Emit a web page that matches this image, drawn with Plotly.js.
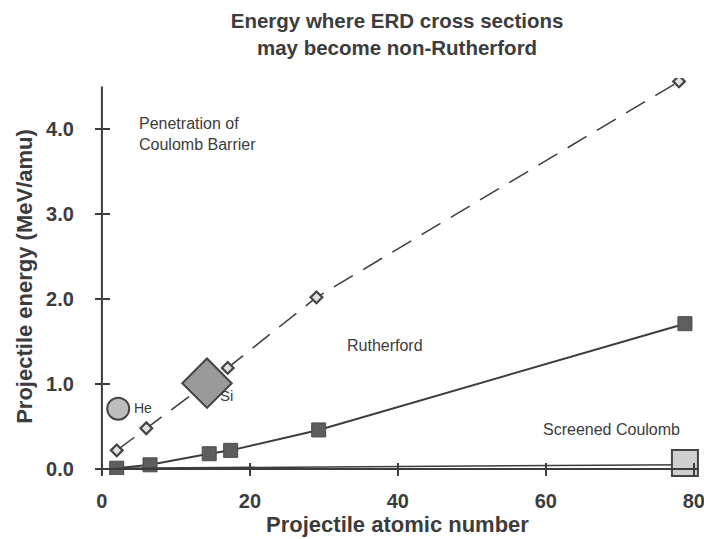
<!DOCTYPE html>
<html>
<head>
<meta charset="utf-8">
<script src="https://cdn.plot.ly/plotly-3.0.1.min.js"></script>
<style>html,body{margin:0;padding:0;background:#fff;}#chart{width:704px;height:539px;}</style>
</head>
<body>
<div id="chart"></div>
<script>
// Coulomb barrier penetration boundary (dashed, small diamonds)
const barrierZ = [2, 6, 17, 29, 78];
const barrierE = [0.22, 0.48, 1.19, 2.02, 4.56];
// Rutherford / screened boundary (solid, filled squares)
const screenZ = [2, 6.5, 14.5, 17.4, 29.3, 78.8];
const screenE = [0.01, 0.05, 0.18, 0.22, 0.46, 1.71];
// Screened Coulomb lower line
const lowZ = [2, 78.8];
const lowE = [0.01, 0.05];
// Highlighted points
const heZ = [2.2], heE = [0.71];
const siZ = [14.2], siE = [1.01];
const boxZ = [78.8], boxE = [0.07];

const xTicks = [0, 20, 40, 60, 80];
const yTicks = [0, 1, 2, 3, 4];
const yTickText = ['0.0', '1.0', '2.0', '3.0', '4.0'];

const ink = '#3c3c3c';
const fam = 'Liberation Sans, Arial, sans-serif';
const xRange = [-0.8, 80.7];
const yRange = [-0.07, 4.6];
const yAxisTop = 4.5;
const xPos0 = (0 - xRange[0]) / (xRange[1] - xRange[0]);
const yPos0 = (0 - yRange[0]) / (yRange[1] - yRange[0]);

const traces = [
  {x: barrierZ, y: barrierE, mode: 'lines+markers', type: 'scatter',
   line: {color: ink, width: 1.5, dash: '22px,12px'},
   marker: {symbol: 'diamond', size: 9, color: '#e0e0e0', line: {color: '#444', width: 2.2}}},
  {x: screenZ, y: screenE, mode: 'lines+markers', type: 'scatter',
   line: {color: ink, width: 2},
   marker: {symbol: 'square', size: 14, color: '#5e5e5e', line: {color: '#4a4a4a', width: 1}}},
  {x: lowZ, y: lowE, mode: 'lines', type: 'scatter',
   line: {color: ink, width: 1.5}},
  {x: heZ, y: heE, mode: 'markers', type: 'scatter',
   marker: {symbol: 'circle', size: 22, color: '#bdbdbd', line: {color: '#444', width: 2}}},
  {x: siZ, y: siE, mode: 'markers', type: 'scatter',
   marker: {symbol: 'diamond', size: 38, color: '#9a9a9a', line: {color: '#444', width: 2}}},
  {x: boxZ, y: boxE, mode: 'markers', type: 'scatter', cliponaxis: false,
   marker: {symbol: 'square', size: 26, color: '#cfcfcf', line: {color: '#444', width: 2}}}
];

const tickFont = {family: fam, size: 20, color: ink, weight: 'bold'};
const annFont = {family: fam, size: 16, color: ink};

const layout = {
  width: 704, height: 539,
  margin: {l: 96, r: 5, t: 78, b: 64},
  paper_bgcolor: '#fff', plot_bgcolor: '#fff',
  showlegend: false,
  title: {text: 'Energy where ERD cross sections<br>may become non-Rutherford',
          x: 0.564, xanchor: 'center', yref: 'container', y: 0.948, yanchor: 'top',
          font: {family: fam, size: 20.5, color: ink, weight: 'bold'}},
  xaxis: {range: xRange, anchor: 'free', position: yPos0, showgrid: false, zeroline: false,
          showline: true, linecolor: ink, linewidth: 2,
          tickvals: xTicks, ticktext: xTicks.map(String), ticks: 'outside', ticklen: 6, tickwidth: 2, tickcolor: ink,
          ticklabelstandoff: 8, ticklabeloverflow: 'allow', tickfont: tickFont,
          title: {text: 'Projectile atomic number', standoff: 0,
                  font: {family: fam, size: 22, color: ink, weight: 'bold'}}},
  yaxis: {range: yRange, anchor: 'free', position: xPos0, showgrid: false, zeroline: false,
          showline: false,
          tickvals: yTicks, ticktext: yTickText, ticks: 'outside', ticklen: 7, tickwidth: 2, tickcolor: ink,
          ticklabelstandoff: 17, ticklabeloverflow: 'allow', tickfont: tickFont,
          title: {text: 'Projectile energy (MeV/amu)', standoff: 6,
                  font: {family: fam, size: 22, color: ink, weight: 'bold'}}},
  xaxis2: {range: xRange, overlaying: 'x', anchor: 'free', position: yPos0, showgrid: false, zeroline: false,
           showline: false, tickvals: xTicks, showticklabels: false, ticks: 'inside', ticklen: 6, tickwidth: 2, tickcolor: ink},
  yaxis2: {range: yRange, overlaying: 'y', anchor: 'free', position: xPos0, showgrid: false, zeroline: false,
           showline: false, tickvals: yTicks, showticklabels: false, ticks: 'inside', ticklen: 7, tickwidth: 2, tickcolor: ink},
  shapes: [
    {type: 'line', xref: 'x', yref: 'y', x0: 0, x1: 0, y0: yRange[0], y1: yAxisTop,
     line: {color: ink, width: 2}, layer: 'below'}
  ],
  annotations: [
    {x: 4.7, y: 3.94, xref: 'x', yref: 'y', xanchor: 'left', yanchor: 'middle', align: 'left', showarrow: false,
     text: 'Penetration of<br>Coulomb Barrier', font: annFont},
    {x: 32.9, y: 1.45, xref: 'x', yref: 'y', xanchor: 'left', yanchor: 'middle', showarrow: false,
     text: 'Rutherford', font: annFont},
    {x: 59.4, y: 0.46, xref: 'x', yref: 'y', xanchor: 'left', yanchor: 'middle', showarrow: false,
     text: 'Screened Coulomb', font: annFont},
    {x: 4.0, y: 0.72, xref: 'x', yref: 'y', xanchor: 'left', yanchor: 'middle', showarrow: false,
     text: 'He', font: {family: fam, size: 14, color: ink}},
    {x: 15.7, y: 0.86, xref: 'x', yref: 'y', xanchor: 'left', yanchor: 'middle', showarrow: false,
     text: 'Si', font: {family: fam, size: 15, color: ink}}
  ]
};

// dummy trace to activate overlay axes
traces.push({x: [], y: [], xaxis: 'x2', yaxis: 'y2', type: 'scatter', mode: 'markers', hoverinfo: 'skip'});

Plotly.newPlot('chart', traces, layout, {displayModeBar: false, staticPlot: true});
</script>
</body>
</html>
